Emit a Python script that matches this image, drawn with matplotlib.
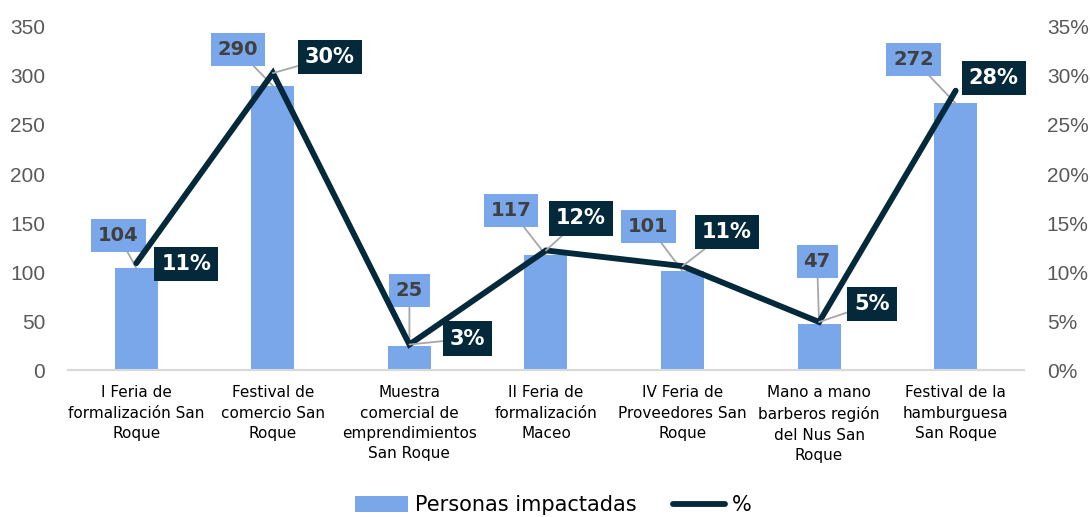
import matplotlib.pyplot as plt
import numpy as np

# data
categories = ["I Feria de\nformalización San\nRoque",
              "Festival de\ncomercio San\nRoque",
              "Muestra\ncomercial de\nemprendimientos\nSan Roque",
              "II Feria de\nformalización\nMaceo",
              "IV Feria de\nProveedores San\nRoque",
              "Mano a mano\nbarberos región\ndel Nus San\nRoque",
              "Festival de la\nhamburguesa\nSan Roque"]
personas = [104, 290, 25, 117, 101, 47, 272]
porcentaje = [10.9, 30.3, 2.6, 12.2, 10.6, 4.9, 28.5]
pct_labels = ["11%", "30%", "3%", "12%", "11%", "5%", "28%"]

bar_color = "#7aa6ea"
line_color = "#03293b"
tick_color = "#595959"
leader_color = "#a6a6a6"

# label offsets in pixels from the mark (x right, y up)
bar_off = [(-18, 33), (-35, 36), (0, 55), (-35, 45), (-34, 45), (-2, 62), (-42, 44)]
pct_off = [(50, -1), (57, 16), (58, 6), (35, 32), (44, 34), (53, 18), (38, 13)]
pct_leader = [False, True, True, True, True, True, False]

plt.rcParams['font.family'] = ['DejaVu Sans']

fig = plt.figure(figsize=(10.9, 5.17), dpi=100)
ax = fig.add_axes([0.0624, 0.2843, 0.877, 0.6635])
ax2 = ax.twinx()

x = np.arange(len(categories))
ax.bar(x, personas, width=0.315, color=bar_color, label="Personas impactadas", zorder=2)
ax2.plot(x, porcentaje, color=line_color, lw=4.2, label="%", zorder=3,
         solid_capstyle="round", solid_joinstyle="miter")

ax.set_xlim(-0.5, len(categories) - 0.5)
ax.set_ylim(0, 350)
ax.set_yticks(range(0, 351, 50))
ax2.set_ylim(0, 35)
ax2.set_yticks(range(0, 36, 5))
ax2.set_yticklabels([f"{v}%" for v in range(0, 36, 5)])

for a in (ax, ax2):
    for s in ["top", "left", "right"]:
        a.spines[s].set_visible(False)
    a.spines["bottom"].set_color("#d9d9d9")
    a.spines["bottom"].set_linewidth(1.5)
    a.tick_params(length=0, labelsize=15, labelcolor=tick_color, pad=16.5)
    for t in a.get_yticklabels():
        t.set_family("Liberation Sans")

ax.set_xticks(x)
ax.set_xticklabels(categories, fontsize=11, color="#000000", linespacing=1.45)
ax.tick_params(axis="x", pad=11)

# data labels
for i in range(len(x)):
    ax.annotate(str(personas[i]), xy=(x[i], personas[i]), xytext=bar_off[i],
                textcoords="offset pixels", ha="center", va="center",
                fontsize=14, fontweight="bold", color="#404040",
                bbox=dict(boxstyle="square,pad=0.36", fc=bar_color, ec="none"),
                arrowprops=dict(arrowstyle="-", color=leader_color, lw=1.3,
                                shrinkA=0, shrinkB=0),
                zorder=5)
    arrow = None
    if pct_leader[i]:
        arrow = dict(arrowstyle="-", color=leader_color, lw=1.3,
                     shrinkA=0, shrinkB=0)
    ax2.annotate(pct_labels[i], xy=(x[i], porcentaje[i]), xytext=pct_off[i],
                 textcoords="offset pixels", ha="center", va="center",
                 fontsize=15, fontweight="bold", color="white",
                 bbox=dict(boxstyle="square,pad=0.34", fc=line_color, ec="none"),
                 arrowprops=arrow, zorder=6)

h1, l1 = ax.get_legend_handles_labels()
h2, l2 = ax2.get_legend_handles_labels()
fig.legend(h1 + h2, l1 + l2, loc="center", bbox_to_anchor=(0.508, 0.023),
           ncol=2, frameon=False, fontsize=15, handlelength=2.5,
           handleheight=0.8, columnspacing=1.75, handletextpad=0.35,
           borderpad=0)

fig.savefig("out.png", dpi=100)
